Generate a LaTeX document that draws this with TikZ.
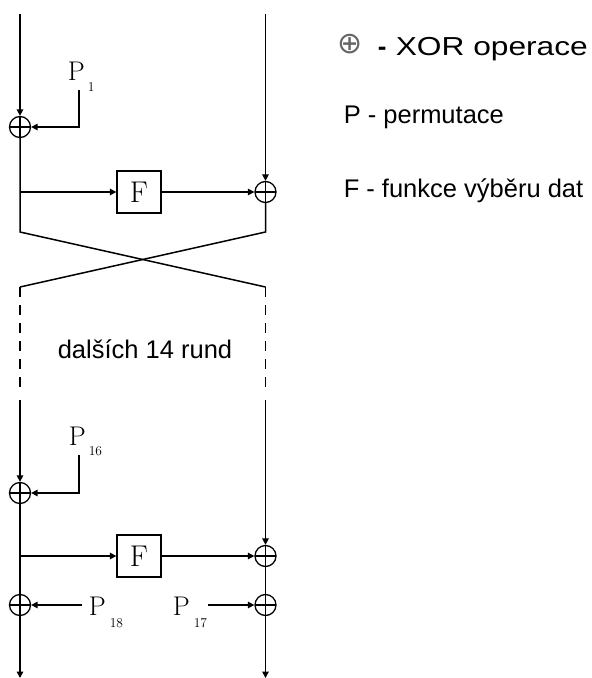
\documentclass[tikz,border=0pt]{standalone}
\usepackage{fontspec}
\newfontfamily\arial{Liberation Sans}
\newfontfamily\dejavu{DejaVu Sans}
\usetikzlibrary{arrows.meta}
\begin{document}
\begin{tikzpicture}[x=1pt,y=-1pt, line width=1.5pt,
  arr/.style={-{Triangle[length=6.5pt,width=6.5pt]}},
  xor/.style={circle, draw, line width=1.3pt, minimum size=21pt, inner sep=0pt,
    path picture={\draw[line width=1.3pt] (path picture bounding box.north) -- (path picture bounding box.south)
      (path picture bounding box.west) -- (path picture bounding box.east);}},
  fbox/.style={draw, line width=1.3pt, minimum width=44pt, minimum height=42pt, inner sep=0pt, font=\fontsize{30}{30}\selectfont},
  plab/.style={inner sep=0pt, anchor=base west, font=\fontsize{27}{27}\selectfont},
  psub/.style={inner sep=0pt, anchor=base west, font=\fontsize{13.5}{13.5}\selectfont},
  legend/.style={inner sep=0pt, anchor=base west, font=\arial\fontsize{25.5}{25.5}\selectfont},
  dashline/.style={dash pattern=on 10pt off 8pt}]
\useasboundingbox (0,0) rectangle (592,678);

% XOR nodes
\node[xor] (x1) at (20,127) {};
\node[xor] (x2) at (265.5,192) {};
\node[xor] (x3) at (20,493) {};
\node[xor] (x4) at (265.5,556) {};
\node[xor] (x5) at (20,605) {};
\node[xor] (x6) at (265.5,605) {};

% F boxes
\node[fbox] (f1) at (139,192) {F};
\node[fbox] (f2) at (139,556) {F};

% coordinates
\coordinate (tl) at (20,14);
\coordinate (tr) at (265.5,14);
\coordinate (j1) at (20,192);
\coordinate (j2) at (20,556);
\coordinate (a1) at (20,232);
\coordinate (a2) at (265.5,232);
\coordinate (b1) at (20,287);
\coordinate (b2) at (265.5,287);
\coordinate (d1) at (20,392);
\coordinate (d2) at (265.5,392);
\coordinate (s1) at (20,400);
\coordinate (s2) at (265.5,400);
\coordinate (e1) at (20,678);
\coordinate (e2) at (265.5,678);
\coordinate (c1) at (79,90);
\coordinate (c16) at (79,455);
\coordinate (c18) at (82,605);
\coordinate (c17) at (208,605);

% upper round
\draw[arr] (tl) -- (x1);
\draw (x1) -- (a1) -- (b2);
\draw[arr] (tr) -- (x2);
\draw (x2) -- (a2) -- (b1);
\draw[arr] (j1) -- (f1);
\draw[arr] (f1) -- (x2);
\draw[arr] (c1) |- (x1);

% dashed part
\draw[dashline] (b1) -- (d1);
\draw[dashline] (b2) -- (d2);
\node[legend, anchor=base] (rest) at (145,358) {dalších 14 rund};

% lower round
\draw[arr] (s1) -- (x3);
\draw (x3) -- (x5);
\draw[arr] (s2) -- (x4);
\draw (x4) -- (x6);
\draw[arr] (j2) -- (f2);
\draw[arr] (f2) -- (x4);
\draw[arr] (c16) |- (x3);
\draw[arr] (c18) -- (x5);
\draw[arr] (c17) -- (x6);
\draw[arr] (x5) -- (e1);
\draw[arr] (x6) -- (e2);

% P labels
\node[plab] (p1) at (67,80) {P};
\node[psub] (p1s) at (87,91) {1};
\node[plab] (p16) at (68,445) {P};
\node[psub] (p16s) at (88,455) {16};
\node[plab] (p18) at (88,615) {P};
\node[psub] (p18s) at (109,627) {18};
\node[plab] (p17) at (172,615) {P};
\node[psub] (p17s) at (193,627) {17};

% legend
\node[inner sep=0pt, text=black!60, font=\dejavu\fontsize{30}{30}\selectfont] (lx) at (350.5,44.5) {⊕};
\node[inner sep=0pt, anchor=base west, font=\arial\bfseries\fontsize{26}{26}\selectfont] (ldash) at (377,55) {-};
\node[inner sep=0pt, anchor=base west, font=\arial\fontsize{26}{26}\selectfont] (l1) at (395,55) {\scalebox{1.22}[1]{XOR operace}};
\node[legend] (l2) at (343,123) {P - permutace};
\node[legend] (l3) at (343,197) {F - funkce výběru dat};
\end{tikzpicture}
\end{document}
